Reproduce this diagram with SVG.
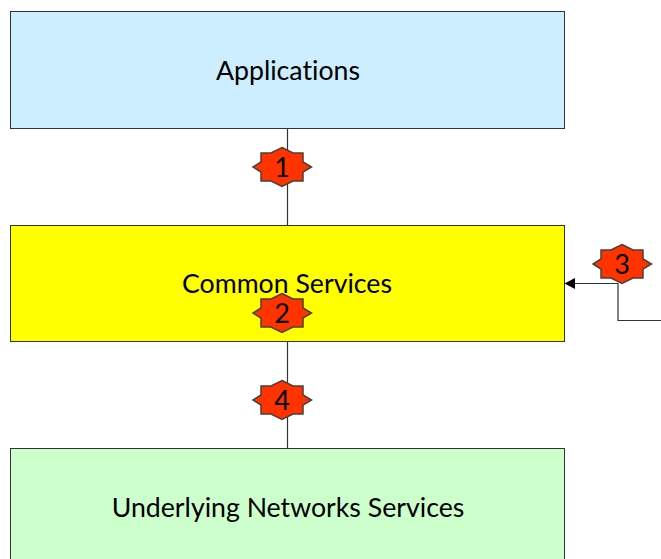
<svg xmlns="http://www.w3.org/2000/svg" width="661" height="559" viewBox="0 0 661 559">
<style>
.box{stroke:#333;stroke-width:1}
.label{font-family:"Lato","Open Sans",sans-serif;font-size:26.700px;font-variant-ligatures:none;fill:#000;text-anchor:middle}
.num{font-family:"Lato","Open Sans",sans-serif;font-size:27px;fill:#000;text-anchor:middle}
.conn{fill:none;stroke:#333;stroke-width:1.2}
.star{fill:#ff3300;stroke:#4a4038;stroke-width:1.5}
</style>
<defs>
<polygon id="badge" points="0,-19.500 11,-14 21,-14 21,-5 29.500,0 21,5 21,14 11,14 0,19.500 -11,14 -21,14 -21,5 -29,0 -21,-5 -21,-14 -11,-14"/>
</defs>
<rect width="661" height="559" fill="#fff"/>
<g id="connectors">
<path class="conn" d="M287.500 128V225"/>
<path class="conn" d="M287.500 342V448"/>
<path class="conn" d="M661 320.500H618V283.500H575"/>
<path d="M564.500 283.500L575 278V289Z" fill="#000"/>
</g>
<g id="applications">
<rect class="box" x="10.500" y="11.500" width="554" height="117" fill="#cceeff"/>
<text class="label" x="288" y="80">Applications</text>
</g>
<g id="common-services">
<rect class="box" x="10.500" y="225.500" width="554" height="116" fill="#ffff00"/>
<text class="label" x="287" y="293">Common Services</text>
</g>
<g id="underlying-networks-services">
<rect class="box" x="10.500" y="448.500" width="554" height="120" fill="#ccffcc"/>
<text class="label" x="288" y="517">Underlying Networks Services</text>
</g>
<g id="badge-1"><use href="#badge" class="star" x="282" y="167"/><text class="num" x="282" y="177">1</text></g>
<g id="badge-2"><use href="#badge" class="star" x="282" y="313"/><text class="num" x="282" y="323">2</text></g>
<g id="badge-3"><use href="#badge" class="star" x="622" y="264"/><text class="num" x="622" y="274">3</text></g>
<g id="badge-4"><use href="#badge" class="star" x="282" y="400"/><text class="num" x="282" y="410">4</text></g>
</svg>
